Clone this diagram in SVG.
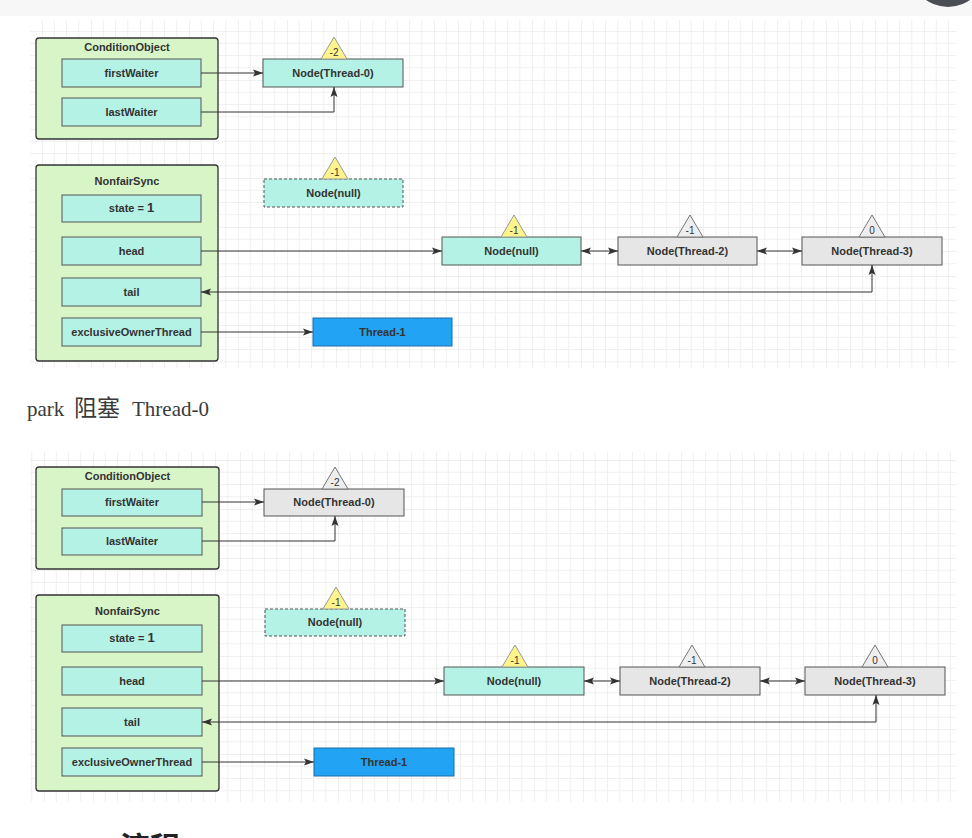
<svg xmlns="http://www.w3.org/2000/svg" width="972" height="838" viewBox="0 0 972 838">
<style>
text{font-family:"Liberation Sans","Noto Sans CJK SC",sans-serif;fill:#333}
.lbl{font-size:11px;font-weight:bold;text-anchor:middle}
.tri-t{font-size:10px;text-anchor:middle}
.outer{fill:#d8f5c8;stroke:#333;stroke-width:1.3}
.field{fill:#b3f2e4;stroke:#555;stroke-width:1}
.cyan{fill:#b3f2e4;stroke:#555;stroke-width:1}
.grey{fill:#e6e6e6;stroke:#555;stroke-width:1}
.dash{fill:#b3f2e4;stroke:#555;stroke-width:1;stroke-dasharray:3 2}
.blue{fill:#22a3f3;stroke:#1a6fa8;stroke-width:1}
.ytri{fill:#fff38c;stroke:#999;stroke-width:1}
.gtri{fill:#eeeeee;stroke:#777;stroke-width:1}
.conn{fill:none;stroke:#333;stroke-width:1}
</style>
<defs>
<marker id="ah" viewBox="0 0 10 10" refX="10" refY="5" markerWidth="10" markerHeight="10" markerUnits="userSpaceOnUse" orient="auto-start-reverse">
<path d="M0,1.5 L10,5 L0,8.5 L2,5 Z" fill="#333"/>
</marker>
<pattern id="grid1" patternUnits="userSpaceOnUse" x="42" y="31" width="49" height="49">
<path d="M12.25,0V49M24.5,0V49M36.75,0V49M0,12.25H49M0,24.5H49M0,36.75H49" stroke="#f0f0f0" stroke-width="1" fill="none"/>
<path d="M0,0V49M0,0H49" stroke="#e0e0e0" stroke-width="1" fill="none"/>
</pattern>
<pattern id="grid2" patternUnits="userSpaceOnUse" x="44" y="460" width="49" height="49">
<path d="M12.25,0V49M24.5,0V49M36.75,0V49M0,12.25H49M0,24.5H49M0,36.75H49" stroke="#f0f0f0" stroke-width="1" fill="none"/>
<path d="M0,0V49M0,0H49" stroke="#e0e0e0" stroke-width="1" fill="none"/>
</pattern>
</defs>
<rect x="0" y="0" width="972" height="838" fill="#ffffff"/>
<rect x="0" y="0" width="972" height="16" fill="#f7f7f7"/>
<circle cx="948" cy="-31" r="38" fill="#4a4d52"/>
<rect x="30" y="20" width="926" height="348" fill="url(#grid1)"/>
<rect x="30" y="452" width="926" height="350" fill="url(#grid2)"/>

<!-- ===== Top diagram ===== -->
<g id="top-condition">
<rect class="outer" x="36" y="38" width="182" height="101" rx="3"/>
<text class="lbl" x="127" y="51">ConditionObject</text>
</g>
<g id="top-firstWaiter"><rect class="field" x="62" y="59" width="139" height="28"/><text class="lbl" x="131.5" y="77">firstWaiter</text></g>
<g id="top-lastWaiter"><rect class="field" x="62" y="98" width="139" height="28"/><text class="lbl" x="131.5" y="116">lastWaiter</text></g>
<g id="top-node-thread0">
<rect class="cyan" x="263" y="59" width="140" height="28"/><text class="lbl" x="333" y="77">Node(Thread-0)</text>
<path class="ytri" d="M334,37 L347,59 L321,59 Z"/><text class="tri-t" x="334" y="56">-2</text>
</g>
<g id="top-nonfair">
<rect class="outer" x="36" y="165" width="182" height="196" rx="3"/>
<text class="lbl" x="127" y="185">NonfairSync</text>
</g>
<g id="top-state"><rect class="field" x="62" y="195" width="139" height="27"/><text class="lbl" x="131.5" y="212">state = <tspan font-size="13">1</tspan></text></g>
<g id="top-head"><rect class="field" x="62" y="237" width="139" height="28"/><text class="lbl" x="131.5" y="255">head</text></g>
<g id="top-tail"><rect class="field" x="62" y="278" width="139" height="28"/><text class="lbl" x="131.5" y="296">tail</text></g>
<g id="top-exclusive"><rect class="field" x="62" y="318" width="139" height="28"/><text class="lbl" x="131.5" y="336">exclusiveOwnerThread</text></g>
<g id="top-node-null-dashed">
<rect class="dash" x="264" y="179" width="139" height="28"/><text class="lbl" x="333.5" y="197">Node(null)</text>
<path class="ytri" d="M335,157 L348,179 L322,179 Z"/><text class="tri-t" x="335" y="176">-1</text>
</g>
<g id="top-thread1"><rect class="blue" x="313" y="318" width="139" height="28"/><text class="lbl" x="382.5" y="336">Thread-1</text></g>
<g id="top-node-null">
<rect class="cyan" x="442" y="237" width="139" height="28"/><text class="lbl" x="511.5" y="255">Node(null)</text>
<path class="ytri" d="M514,215 L527,237 L501,237 Z"/><text class="tri-t" x="514" y="234">-1</text>
</g>
<g id="top-node-thread2">
<rect class="grey" x="618" y="237" width="139" height="28"/><text class="lbl" x="687.5" y="255">Node(Thread-2)</text>
<path class="gtri" d="M690,215 L703,237 L677,237 Z"/><text class="tri-t" x="690" y="234">-1</text>
</g>
<g id="top-node-thread3">
<rect class="grey" x="802" y="237" width="140" height="28"/><text class="lbl" x="872" y="255">Node(Thread-3)</text>
<path class="gtri" d="M872,215 L885,237 L859,237 Z"/><text class="tri-t" x="872" y="234">0</text>
</g>

<!-- ===== Caption ===== -->
<text x="27" y="416" style="font-family:'Liberation Serif','Noto Sans CJK SC',serif;font-size:21px;fill:#3a3a3a">park<tspan x="74" style="font-size:23px">阻塞</tspan><tspan x="132">Thread-0</tspan></text>

<!-- ===== Bottom diagram ===== -->
<g id="bot-condition">
<rect class="outer" x="36" y="467" width="183" height="102" rx="3"/>
<text class="lbl" x="127.5" y="480">ConditionObject</text>
</g>
<g id="bot-firstWaiter"><rect class="field" x="62" y="489" width="140" height="27"/><text class="lbl" x="132" y="506">firstWaiter</text></g>
<g id="bot-lastWaiter"><rect class="field" x="62" y="528" width="140" height="27"/><text class="lbl" x="132" y="545">lastWaiter</text></g>
<g id="bot-node-thread0">
<rect class="grey" x="264" y="489" width="140" height="27"/><text class="lbl" x="334" y="506">Node(Thread-0)</text>
<path class="gtri" d="M335,467 L348,489 L322,489 Z"/><text class="tri-t" x="335" y="486">-2</text>
</g>
<g id="bot-nonfair">
<rect class="outer" x="36" y="595" width="183" height="196" rx="3"/>
<text class="lbl" x="127.5" y="615">NonfairSync</text>
</g>
<g id="bot-state"><rect class="field" x="62" y="625" width="140" height="27"/><text class="lbl" x="132" y="642">state = <tspan font-size="13">1</tspan></text></g>
<g id="bot-head"><rect class="field" x="62" y="667" width="140" height="28"/><text class="lbl" x="132" y="685">head</text></g>
<g id="bot-tail"><rect class="field" x="62" y="708" width="140" height="28"/><text class="lbl" x="132" y="726">tail</text></g>
<g id="bot-exclusive"><rect class="field" x="62" y="748" width="140" height="28"/><text class="lbl" x="132" y="766">exclusiveOwnerThread</text></g>
<g id="bot-node-null-dashed">
<rect class="dash" x="265" y="609" width="140" height="27"/><text class="lbl" x="335" y="626">Node(null)</text>
<path class="ytri" d="M336,587 L349,609 L323,609 Z"/><text class="tri-t" x="336" y="606">-1</text>
</g>
<g id="bot-thread1"><rect class="blue" x="314" y="748" width="140" height="28"/><text class="lbl" x="384" y="766">Thread-1</text></g>
<g id="bot-node-null">
<rect class="cyan" x="444" y="667" width="140" height="28"/><text class="lbl" x="514" y="685">Node(null)</text>
<path class="ytri" d="M515,645 L528,667 L502,667 Z"/><text class="tri-t" x="515" y="664">-1</text>
</g>
<g id="bot-node-thread2">
<rect class="grey" x="620" y="667" width="140" height="28"/><text class="lbl" x="690" y="685">Node(Thread-2)</text>
<path class="gtri" d="M692,645 L705,667 L679,667 Z"/><text class="tri-t" x="692" y="664">-1</text>
</g>
<g id="bot-node-thread3">
<rect class="grey" x="805" y="667" width="140" height="28"/><text class="lbl" x="875" y="685">Node(Thread-3)</text>
<path class="gtri" d="M875,645 L888,667 L862,667 Z"/><text class="tri-t" x="875" y="664">0</text>
</g>

<!-- ===== Connectors ===== -->
<g id="connectors">
<path class="conn" d="M201,73 H263" marker-end="url(#ah)"/>
<path class="conn" d="M201,112 H334 V87" marker-end="url(#ah)"/>
<path class="conn" d="M201,251 H442" marker-end="url(#ah)"/>
<path class="conn" d="M872,265 V292 H201" marker-start="url(#ah)" marker-end="url(#ah)"/>
<path class="conn" d="M201,332 H313" marker-end="url(#ah)"/>
<path class="conn" d="M581,251 H618" marker-start="url(#ah)" marker-end="url(#ah)"/>
<path class="conn" d="M757,251 H802" marker-start="url(#ah)" marker-end="url(#ah)"/>

<path class="conn" d="M202,502 H264" marker-end="url(#ah)"/>
<path class="conn" d="M202,541 H335 V516" marker-end="url(#ah)"/>
<path class="conn" d="M202,681 H444" marker-end="url(#ah)"/>
<path class="conn" d="M876,695 V722 H202" marker-start="url(#ah)" marker-end="url(#ah)"/>
<path class="conn" d="M202,762 H314" marker-end="url(#ah)"/>
<path class="conn" d="M584,681 H620" marker-start="url(#ah)" marker-end="url(#ah)"/>
<path class="conn" d="M760,681 H805" marker-start="url(#ah)" marker-end="url(#ah)"/>
</g>

<text x="120" y="858" style="font-family:'Noto Sans CJK SC',sans-serif;font-size:30px;font-weight:bold;fill:#222">流程</text>
</svg>
